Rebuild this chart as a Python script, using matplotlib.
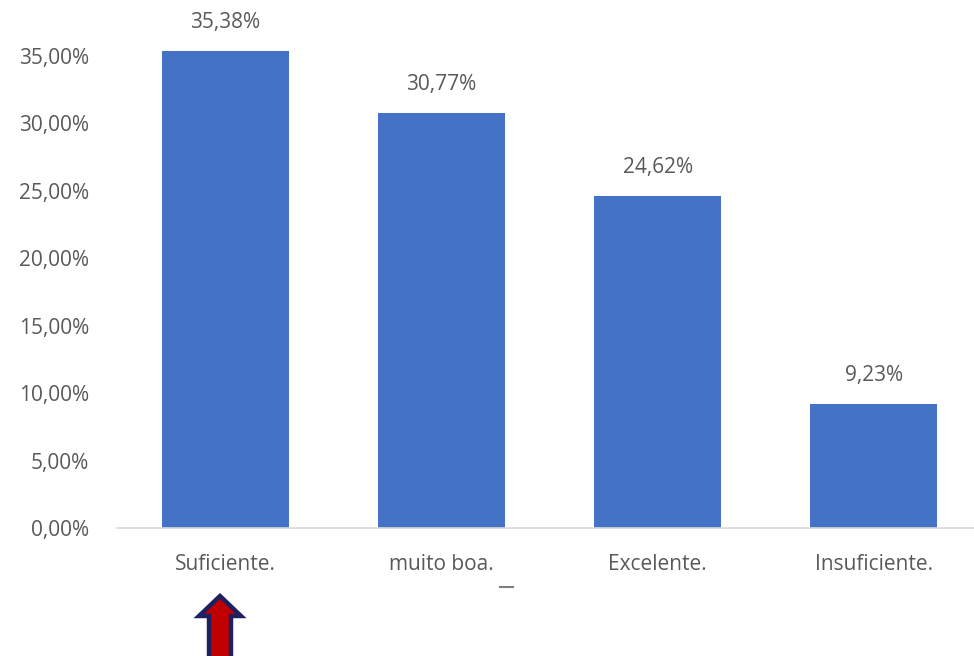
import matplotlib.pyplot as plt
from matplotlib.patches import Polygon
from matplotlib.ticker import FuncFormatter

categorias = ["Suficiente.", "muito boa.", "Excelente.", "Insuficiente."]
percentuais = [35.38, 30.77, 24.62, 9.23]
yticks = [0, 5, 10, 15, 20, 25, 30, 35]

cor_barra = "#4472c4"
cor_texto = "#595959"

plt.rcParams["font.family"] = ["Open Sans", "DejaVu Sans"]

fig = plt.figure(figsize=(9.74, 6.56), dpi=100)
W, H = 974, 656
# eixo um pouco mais largo que a figura (recortado à direita, como no original)
ax = fig.add_axes([117 / W, 1 - 528 / H, 865 / W, (528 - 29) / H])

x = range(len(categorias))
bars = ax.bar(x, percentuais, width=0.587, color=cor_barra)

for b, v in zip(bars, percentuais):
    ax.annotate(f"{v:.2f}%".replace(".", ","),
                (b.get_x() + b.get_width() / 2, b.get_height()),
                xytext=(0, 18), textcoords="offset pixels",
                ha="center", va="bottom", fontsize=15, color=cor_texto)

ax.set_xlim(-0.5, 3.5)
ax.set_ylim(0, 37)
ax.set_yticks(yticks)
ax.yaxis.set_major_formatter(FuncFormatter(lambda v, p: f"{v:.2f}%".replace(".", ",")))
ax.set_xticks(list(x))
ax.set_xticklabels(categorias)
ax.tick_params(axis="both", length=0, labelsize=15, colors=cor_texto)
ax.tick_params(axis="y", pad=20)
ax.tick_params(axis="x", pad=19)

for s in ["top", "right", "left"]:
    ax.spines[s].set_visible(False)
ax.spines["bottom"].set_color("#d9d9d9")
ax.spines["bottom"].set_linewidth(1.2)

# tracinho cinza abaixo de "muito boa."
fig.add_artist(plt.Line2D([500 / W, 513 / W], [1 - 587 / H, 1 - 587 / H],
                          color="#7f7f7f", lw=1.5))

# seta vermelha apontando para "Suficiente." (em pixels da figura)
seta_px = [(220, 596), (199, 616), (209, 616), (209, 665),
           (231, 665), (231, 616), (241, 616)]
seta = Polygon([(px / W, 1 - py / H) for px, py in seta_px], closed=True,
               transform=fig.transFigure, fc="#c00000", ec="#1f2060",
               lw=3.2, joinstyle="miter")
fig.add_artist(seta)

fig.savefig("out.png", dpi=100)
